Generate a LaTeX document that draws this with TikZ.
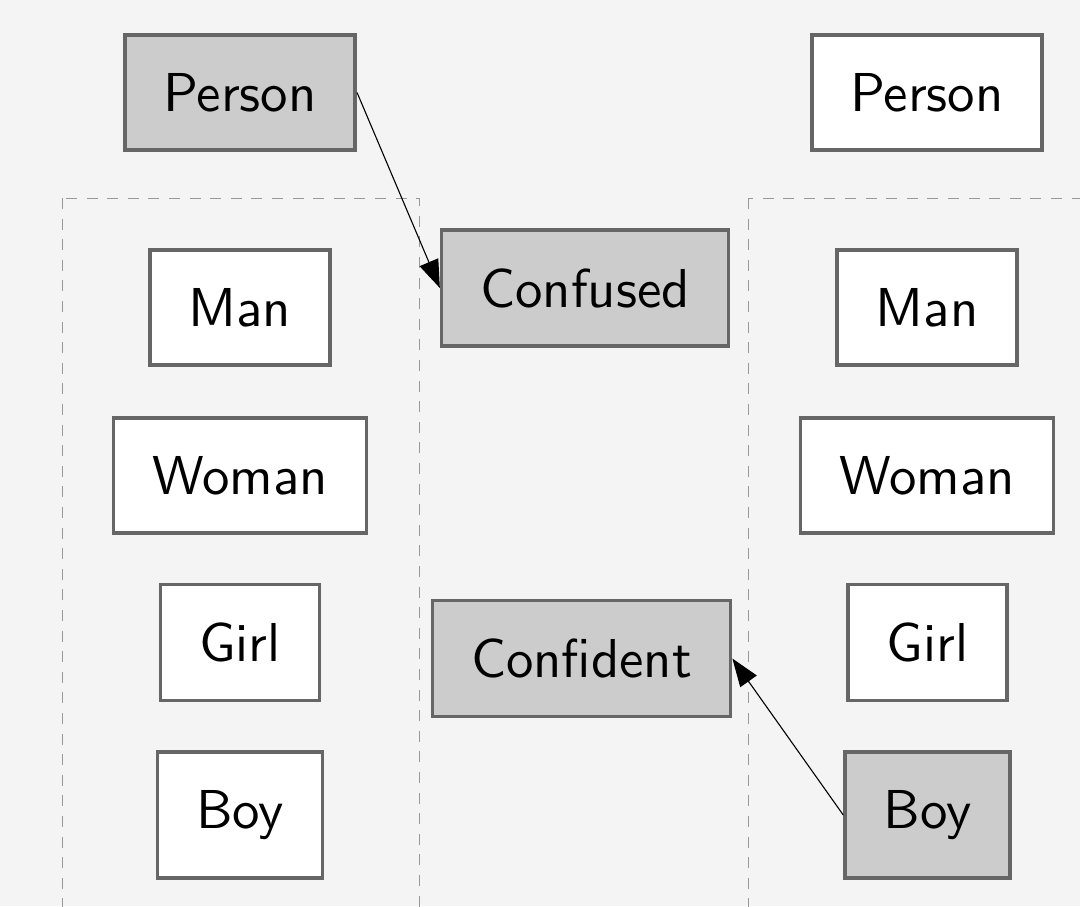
\documentclass[tikz,border=0pt]{standalone}
\usepackage{fontspec}
\newfontfamily\lmsten{lmsans10-regular.otf}
\usetikzlibrary{arrows.meta}
\definecolor{bg}{HTML}{F4F4F4}
\definecolor{boxline}{HTML}{666666}
\definecolor{hl}{HTML}{CCCCCC}
\definecolor{dashc}{HTML}{999999}
\tikzset{
  item/.style={draw=boxline, line width=1.8pt, fill=white, inner xsep=19.3pt, inner ysep=19.2pt,
    font=\lmsten\fontsize{27.4}{32}\selectfont, text=black},
  hlitem/.style={item, fill=hl},
  group/.style={draw=dashc, line width=0.5pt, dash pattern=on 5.5pt off 4.8pt},
  link/.style={draw=black, line width=0.55pt, -{Triangle[length=14pt,width=10pt]}}
}
\begin{document}
\begin{tikzpicture}[x=0.5pt,y=-0.5pt]
\useasboundingbox (0,0) rectangle (1080,906);
\fill[bg] (0,0) rectangle (1080,906);
\begin{scope}
\clip (0,0) rectangle (1080,906);
\draw[group] (62,198) rectangle (419,930);
\draw[group] (748,198) rectangle (1100,930);
\end{scope}
\node[hlitem] (pl) at (240,92.5) {Person};
\node[item] (pr) at (927,92.5) {Person};
\node[item] (ml) at (240,307.5) {Man};
\node[item] (mr) at (927,307.5) {Man};
\node[item] (wl) at (240,475.5) {Woman};
\node[item] (wr) at (927,475.5) {Woman};
\node[item] (gl) at (240,642.5) {Girl};
\node[item] (gr) at (927.5,642.5) {Girl};
\node[item] (bl) at (240,815) {Boy};
\node[hlitem] (br) at (927.5,815) {Boy};
\node[hlitem] (cu) at (585,288) {Confused};
\node[hlitem] (ci) at (581.5,658.5) {Confident};
\draw[link] (pl.east) -- (cu.west);
\draw[link] (br.west) -- (ci.east);
\end{tikzpicture}
\end{document}
